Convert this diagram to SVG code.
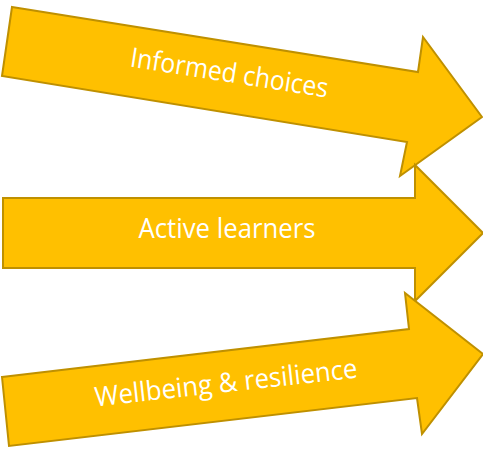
<svg xmlns="http://www.w3.org/2000/svg" width="483" height="450" viewBox="0 0 483 450">
<style>
.arrow{fill:#FFC000;stroke:#BF9000;stroke-width:2;stroke-linejoin:miter}
.lbl{font-family:"Open Sans","Liberation Sans",sans-serif;font-size:27px;fill:#FFFFFF;text-anchor:middle}
</style>
<rect width="483" height="450" fill="#FFFFFF"/>
<g id="informed-choices">
<polygon class="arrow" points="12,7 418,72 423,37 482,117 400,176 407,142 2,76"/>
<text class="lbl" x="0" y="0" textLength="200" lengthAdjust="spacingAndGlyphs" transform="translate(228,82) rotate(9)">Informed choices</text>
</g>
<g id="active-learners">
<polygon class="arrow" points="3,198 415,198 415,165 483,233 415,301 415,268 3,268"/>
<text class="lbl" x="227" y="238" textLength="177" lengthAdjust="spacingAndGlyphs">Active learners</text>
</g>
<g id="wellbeing-resilience">
<polygon class="arrow" points="2,377 409,329 405,293 483,354 422,434 417,398 9,446"/>
<text class="lbl" x="0" y="0" textLength="264" lengthAdjust="spacingAndGlyphs" transform="translate(227,392) rotate(-6.3)">Wellbeing &amp; resilience</text>
</g>
<g id="connectors"/>
</svg>
